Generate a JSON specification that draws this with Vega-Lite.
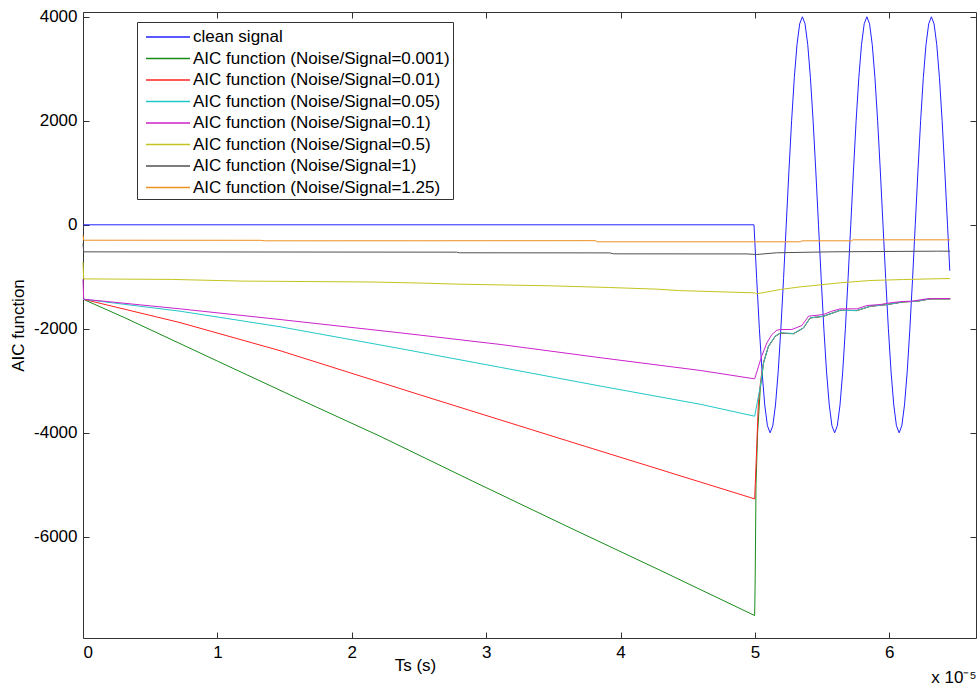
{
  "$schema": "https://vega.github.io/schema/vega-lite/v6.json",
  "width": 893,
  "height": 626,
  "autosize": {"type": "none"},
  "padding": {"left": 83, "top": 12, "right": 3, "bottom": 48},
  "config": {
    "font": "Liberation Sans",
    "view": {"stroke": null},
    "axis": {
      "labelFont": "Liberation Sans",
      "labelFontSize": 17,
      "labelColor": "#000",
      "titleFont": "Liberation Sans",
      "titleFontSize": 17,
      "titleFontWeight": "normal",
      "titleColor": "#000",
      "domainColor": "#333",
      "tickColor": "#333",
      "grid": false
    }
  },
  "title": {
    "text": "x 10⁻⁵",
    "orient": "bottom",
    "anchor": "end",
    "fontSize": 17,
    "fontWeight": "normal",
    "font": "Liberation Sans",
    "color": "#000",
    "offset": -3
  },
  "data": {
    "values": [
      {"s": "clean", "t": 0, "v": 0},
      {"s": "clean", "t": 4.993, "v": 0},
      {"s": "clean", "t": 5.013, "v": -1035},
      {"s": "clean", "t": 5.033, "v": -2000},
      {"s": "clean", "t": 5.053, "v": -2828},
      {"s": "clean", "t": 5.073, "v": -3464},
      {"s": "clean", "t": 5.093, "v": -3864},
      {"s": "clean", "t": 5.113, "v": -4000},
      {"s": "clean", "t": 5.133, "v": -3864},
      {"s": "clean", "t": 5.153, "v": -3464},
      {"s": "clean", "t": 5.173, "v": -2828},
      {"s": "clean", "t": 5.193, "v": -2000},
      {"s": "clean", "t": 5.213, "v": -1035},
      {"s": "clean", "t": 5.233, "v": 0},
      {"s": "clean", "t": 5.253, "v": 1035},
      {"s": "clean", "t": 5.273, "v": 2000},
      {"s": "clean", "t": 5.293, "v": 2828},
      {"s": "clean", "t": 5.313, "v": 3464},
      {"s": "clean", "t": 5.333, "v": 3864},
      {"s": "clean", "t": 5.353, "v": 4000},
      {"s": "clean", "t": 5.373, "v": 3864},
      {"s": "clean", "t": 5.393, "v": 3464},
      {"s": "clean", "t": 5.413, "v": 2828},
      {"s": "clean", "t": 5.433, "v": 2000},
      {"s": "clean", "t": 5.453, "v": 1035},
      {"s": "clean", "t": 5.473, "v": 0},
      {"s": "clean", "t": 5.493, "v": -1035},
      {"s": "clean", "t": 5.513, "v": -2000},
      {"s": "clean", "t": 5.533, "v": -2828},
      {"s": "clean", "t": 5.553, "v": -3464},
      {"s": "clean", "t": 5.573, "v": -3864},
      {"s": "clean", "t": 5.593, "v": -4000},
      {"s": "clean", "t": 5.613, "v": -3864},
      {"s": "clean", "t": 5.633, "v": -3464},
      {"s": "clean", "t": 5.653, "v": -2828},
      {"s": "clean", "t": 5.673, "v": -2000},
      {"s": "clean", "t": 5.693, "v": -1035},
      {"s": "clean", "t": 5.713, "v": 0},
      {"s": "clean", "t": 5.733, "v": 1035},
      {"s": "clean", "t": 5.753, "v": 2000},
      {"s": "clean", "t": 5.773, "v": 2828},
      {"s": "clean", "t": 5.793, "v": 3464},
      {"s": "clean", "t": 5.813, "v": 3864},
      {"s": "clean", "t": 5.833, "v": 4000},
      {"s": "clean", "t": 5.853, "v": 3864},
      {"s": "clean", "t": 5.873, "v": 3464},
      {"s": "clean", "t": 5.893, "v": 2828},
      {"s": "clean", "t": 5.913, "v": 2000},
      {"s": "clean", "t": 5.933, "v": 1035},
      {"s": "clean", "t": 5.953, "v": 0},
      {"s": "clean", "t": 5.973, "v": -1035},
      {"s": "clean", "t": 5.993, "v": -2000},
      {"s": "clean", "t": 6.013, "v": -2828},
      {"s": "clean", "t": 6.033, "v": -3464},
      {"s": "clean", "t": 6.053, "v": -3864},
      {"s": "clean", "t": 6.073, "v": -4000},
      {"s": "clean", "t": 6.093, "v": -3864},
      {"s": "clean", "t": 6.113, "v": -3464},
      {"s": "clean", "t": 6.133, "v": -2828},
      {"s": "clean", "t": 6.153, "v": -2000},
      {"s": "clean", "t": 6.173, "v": -1035},
      {"s": "clean", "t": 6.193, "v": 0},
      {"s": "clean", "t": 6.213, "v": 1035},
      {"s": "clean", "t": 6.233, "v": 2000},
      {"s": "clean", "t": 6.253, "v": 2828},
      {"s": "clean", "t": 6.273, "v": 3464},
      {"s": "clean", "t": 6.293, "v": 3864},
      {"s": "clean", "t": 6.313, "v": 4000},
      {"s": "clean", "t": 6.333, "v": 3864},
      {"s": "clean", "t": 6.353, "v": 3464},
      {"s": "clean", "t": 6.373, "v": 2828},
      {"s": "clean", "t": 6.393, "v": 2000},
      {"s": "clean", "t": 6.413, "v": 1035},
      {"s": "clean", "t": 6.433, "v": 0},
      {"s": "clean", "t": 6.45, "v": -883},

      {"s": "0.001", "t": 0, "v": -1430},
      {"s": "0.001", "t": 0.313, "v": -1790},
      {"s": "0.001", "t": 1.0, "v": -2620},
      {"s": "0.001", "t": 1.615, "v": -3360},
      {"s": "0.001", "t": 2.21, "v": -4065},
      {"s": "0.001", "t": 2.9, "v": -4930},
      {"s": "0.001", "t": 3.6, "v": -5796},
      {"s": "0.001", "t": 4.3, "v": -6650},
      {"s": "0.001", "t": 4.998, "v": -7513},
      {"s": "0.001", "t": 5.002, "v": -6800},
      {"s": "0.001", "t": 5.008, "v": -5000},
      {"s": "0.001", "t": 5.02, "v": -4000},
      {"s": "0.001", "t": 5.04, "v": -3150},
      {"s": "0.001", "t": 5.064, "v": -2660},
      {"s": "0.001", "t": 5.1, "v": -2345},
      {"s": "0.001", "t": 5.15, "v": -2150},
      {"s": "0.001", "t": 5.188, "v": -2085},
      {"s": "0.001", "t": 5.287, "v": -2095},
      {"s": "0.001", "t": 5.361, "v": -1985},
      {"s": "0.001", "t": 5.411, "v": -1792},
      {"s": "0.001", "t": 5.51, "v": -1760},
      {"s": "0.001", "t": 5.635, "v": -1645},
      {"s": "0.001", "t": 5.758, "v": -1650},
      {"s": "0.001", "t": 5.858, "v": -1568},
      {"s": "0.001", "t": 5.982, "v": -1535},
      {"s": "0.001", "t": 6.106, "v": -1483},
      {"s": "0.001", "t": 6.205, "v": -1470},
      {"s": "0.001", "t": 6.304, "v": -1425},
      {"s": "0.001", "t": 6.453, "v": -1425},

      {"s": "0.01", "t": 0, "v": -1430},
      {"s": "0.01", "t": 0.722, "v": -1880},
      {"s": "0.01", "t": 1.466, "v": -2420},
      {"s": "0.01", "t": 2.508, "v": -3270},
      {"s": "0.01", "t": 3.6, "v": -4150},
      {"s": "0.01", "t": 4.998, "v": -5270},
      {"s": "0.01", "t": 5.01, "v": -4500},
      {"s": "0.01", "t": 5.026, "v": -3400},
      {"s": "0.01", "t": 5.045, "v": -2950},
      {"s": "0.01", "t": 5.064, "v": -2640},
      {"s": "0.01", "t": 5.1, "v": -2340},
      {"s": "0.01", "t": 5.15, "v": -2146},
      {"s": "0.01", "t": 5.188, "v": -2081},
      {"s": "0.01", "t": 5.287, "v": -2092},
      {"s": "0.01", "t": 5.361, "v": -1983},
      {"s": "0.01", "t": 5.411, "v": -1790},
      {"s": "0.01", "t": 5.51, "v": -1758},
      {"s": "0.01", "t": 5.635, "v": -1643},
      {"s": "0.01", "t": 5.758, "v": -1649},
      {"s": "0.01", "t": 5.858, "v": -1566},
      {"s": "0.01", "t": 5.982, "v": -1534},
      {"s": "0.01", "t": 6.106, "v": -1482},
      {"s": "0.01", "t": 6.205, "v": -1470},
      {"s": "0.01", "t": 6.304, "v": -1424},
      {"s": "0.01", "t": 6.453, "v": -1424},

      {"s": "0.05", "t": 0, "v": -1430},
      {"s": "0.05", "t": 0.722, "v": -1661},
      {"s": "0.05", "t": 1.466, "v": -1960},
      {"s": "0.05", "t": 2.36, "v": -2380},
      {"s": "0.05", "t": 3.104, "v": -2740},
      {"s": "0.05", "t": 3.848, "v": -3100},
      {"s": "0.05", "t": 4.592, "v": -3450},
      {"s": "0.05", "t": 4.998, "v": -3680},
      {"s": "0.05", "t": 5.04, "v": -3104},
      {"s": "0.05", "t": 5.064, "v": -2654},
      {"s": "0.05", "t": 5.1, "v": -2335},
      {"s": "0.05", "t": 5.15, "v": -2142},
      {"s": "0.05", "t": 5.188, "v": -2077},
      {"s": "0.05", "t": 5.287, "v": -2090},
      {"s": "0.05", "t": 5.361, "v": -1981},
      {"s": "0.05", "t": 5.411, "v": -1789},
      {"s": "0.05", "t": 5.51, "v": -1757},
      {"s": "0.05", "t": 5.635, "v": -1642},
      {"s": "0.05", "t": 5.758, "v": -1648},
      {"s": "0.05", "t": 5.858, "v": -1565},
      {"s": "0.05", "t": 5.982, "v": -1533},
      {"s": "0.05", "t": 6.106, "v": -1481},
      {"s": "0.05", "t": 6.205, "v": -1469},
      {"s": "0.05", "t": 6.304, "v": -1423},
      {"s": "0.05", "t": 6.453, "v": -1423},

      {"s": "0.1", "t": 0, "v": -1050},
      {"s": "0.1", "t": 0.005, "v": -1430},
      {"s": "0.1", "t": 0.722, "v": -1616},
      {"s": "0.1", "t": 1.466, "v": -1821},
      {"s": "0.1", "t": 2.36, "v": -2077},
      {"s": "0.1", "t": 3.104, "v": -2300},
      {"s": "0.1", "t": 3.848, "v": -2555},
      {"s": "0.1", "t": 4.592, "v": -2800},
      {"s": "0.1", "t": 4.998, "v": -2962},
      {"s": "0.1", "t": 5.05, "v": -2527},
      {"s": "0.1", "t": 5.089, "v": -2270},
      {"s": "0.1", "t": 5.126, "v": -2110},
      {"s": "0.1", "t": 5.163, "v": -2027},
      {"s": "0.1", "t": 5.19, "v": -2013},
      {"s": "0.1", "t": 5.275, "v": -2013},
      {"s": "0.1", "t": 5.349, "v": -1937},
      {"s": "0.1", "t": 5.399, "v": -1757},
      {"s": "0.1", "t": 5.51, "v": -1725},
      {"s": "0.1", "t": 5.572, "v": -1661},
      {"s": "0.1", "t": 5.635, "v": -1616},
      {"s": "0.1", "t": 5.758, "v": -1616},
      {"s": "0.1", "t": 5.833, "v": -1552},
      {"s": "0.1", "t": 5.932, "v": -1533},
      {"s": "0.1", "t": 6.007, "v": -1500},
      {"s": "0.1", "t": 6.094, "v": -1475},
      {"s": "0.1", "t": 6.168, "v": -1469},
      {"s": "0.1", "t": 6.28, "v": -1423},
      {"s": "0.1", "t": 6.354, "v": -1417},
      {"s": "0.1", "t": 6.453, "v": -1417},

      {"s": "0.5", "t": 0, "v": -718},
      {"s": "0.5", "t": 0.005, "v": -1040},
      {"s": "0.5", "t": 0.66, "v": -1050},
      {"s": "0.5", "t": 1.18, "v": -1082},
      {"s": "0.5", "t": 2.16, "v": -1100},
      {"s": "0.5", "t": 2.51, "v": -1120},
      {"s": "0.5", "t": 2.79, "v": -1141},
      {"s": "0.5", "t": 3.48, "v": -1173},
      {"s": "0.5", "t": 3.91, "v": -1205},
      {"s": "0.5", "t": 4.27, "v": -1237},
      {"s": "0.5", "t": 4.44, "v": -1265},
      {"s": "0.5", "t": 4.998, "v": -1308},
      {"s": "0.5", "t": 5.014, "v": -1327},
      {"s": "0.5", "t": 5.19, "v": -1244},
      {"s": "0.5", "t": 5.34, "v": -1192},
      {"s": "0.5", "t": 5.44, "v": -1167},
      {"s": "0.5", "t": 5.635, "v": -1115},
      {"s": "0.5", "t": 5.858, "v": -1071},
      {"s": "0.5", "t": 6.106, "v": -1052},
      {"s": "0.5", "t": 6.304, "v": -1040},
      {"s": "0.5", "t": 6.453, "v": -1033},

      {"s": "1", "t": 0, "v": -360},
      {"s": "1", "t": 0.005, "v": -520},
      {"s": "1", "t": 2.78, "v": -526},
      {"s": "1", "t": 2.8, "v": -538},
      {"s": "1", "t": 3.92, "v": -540},
      {"s": "1", "t": 3.95, "v": -558},
      {"s": "1", "t": 4.94, "v": -560},
      {"s": "1", "t": 5.014, "v": -571},
      {"s": "1", "t": 5.16, "v": -538},
      {"s": "1", "t": 5.58, "v": -519},
      {"s": "1", "t": 6.35, "v": -507},
      {"s": "1", "t": 6.453, "v": -507},

      {"s": "1.25", "t": 0, "v": -200},
      {"s": "1.25", "t": 0.005, "v": -296},
      {"s": "1.25", "t": 1.32, "v": -298},
      {"s": "1.25", "t": 1.35, "v": -308},
      {"s": "1.25", "t": 3.81, "v": -305},
      {"s": "1.25", "t": 3.83, "v": -327},
      {"s": "1.25", "t": 5.337, "v": -327},
      {"s": "1.25", "t": 5.35, "v": -308},
      {"s": "1.25", "t": 5.72, "v": -308},
      {"s": "1.25", "t": 5.73, "v": -289},
      {"s": "1.25", "t": 6.453, "v": -289}
    ]
  },
  "layer": [
    {
      "mark": {"type": "line", "strokeWidth": 1},
      "encoding": {
        "x": {
          "field": "t",
          "type": "quantitative",
          "scale": {"domain": [0, 6.645], "nice": false, "zero": false},
          "axis": {
            "orient": "bottom",
            "values": [0, 1, 2, 3, 4, 5, 6],
            "labelExpr": "'' + datum.value",
            "tickSize": -6,
            "labelPadding": 12,
            "title": "Ts (s)",
            "titleX": 332,
            "titlePadding": -3
          }
        },
        "y": {
          "field": "v",
          "type": "quantitative",
          "scale": {"domain": [-7945, 4092], "nice": false, "zero": false},
          "axis": {
            "orient": "left",
            "values": [-6000, -4000, -2000, 0, 2000, 4000],
            "labelExpr": "'' + datum.value",
            "tickSize": -6,
            "labelPadding": 12,
            "title": "AIC function",
            "titlePadding": 6
          }
        },
        "color": {
          "field": "s",
          "type": "nominal",
          "scale": {
            "domain": ["clean", "0.001", "0.01", "0.05", "0.1", "0.5", "1", "1.25"],
            "range": ["#2222ff", "#1a8c1a", "#ff2020", "#22c8c8", "#cc22cc", "#c4c420", "#505050", "#ee9020"]
          },
          "legend": {
            "orient": "none",
            "legendX": 54,
            "legendY": 10,
            "title": null,
            "labelExpr": "datum.label == 'clean' ? 'clean signal' : 'AIC function (Noise/Signal=' + datum.label + ')'",
            "labelFont": "Liberation Sans",
            "labelFontSize": 17,
            "labelColor": "#000",
            "labelLimit": 0,
            "symbolType": "M-2,0H2",
            "symbolSize": 484,
            "symbolStrokeWidth": 1.6,
            "symbolOffset": 16,
            "labelOffset": 13,
            "strokeColor": "#333",
            "fillColor": "#fff",
            "padding": 3,
            "rowPadding": 1.5
          }
        }
      }
    },
    {
      "mark": {"type": "line", "strokeOpacity": 0},
      "encoding": {
        "x": {
          "field": "t",
          "type": "quantitative",
          "axis": {
            "orient": "top",
            "values": [0, 1, 2, 3, 4, 5, 6],
            "labels": false,
            "tickSize": -6,
            "title": null
          }
        },
        "y": {
          "field": "v",
          "type": "quantitative",
          "axis": {
            "orient": "right",
            "values": [-6000, -4000, -2000, 0, 2000, 4000],
            "labels": false,
            "tickSize": -6,
            "title": null
          }
        },
        "detail": {"field": "s"}
      }
    }
  ],
  "resolve": {"axis": {"x": "independent", "y": "independent"}}
}
